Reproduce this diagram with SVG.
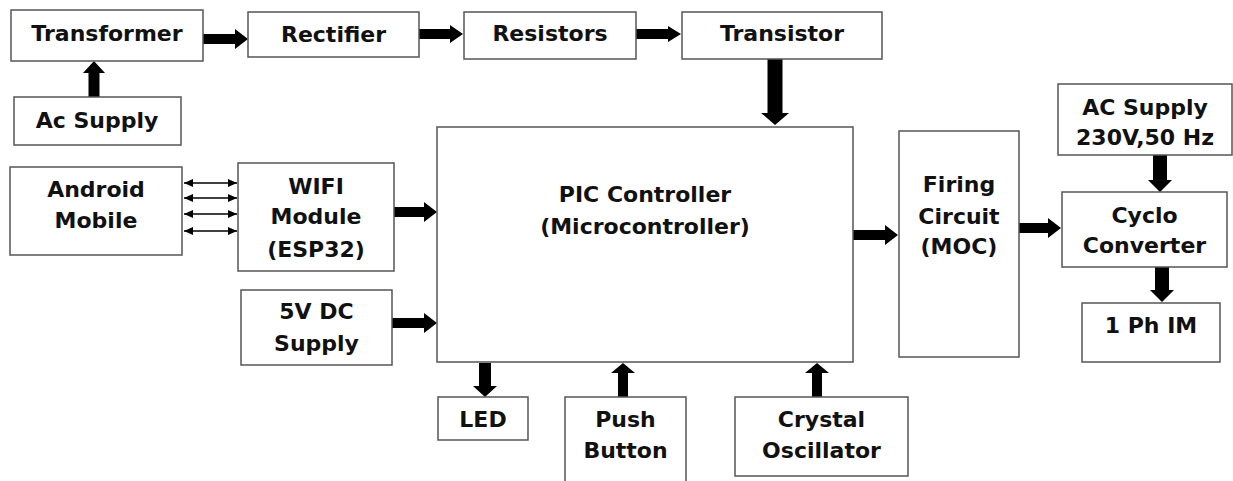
<svg xmlns="http://www.w3.org/2000/svg" width="1233" height="481" viewBox="0 0 1233 481">
<defs>
<style>
.box{fill:#fff;stroke:#555;stroke-width:1.5}
.t{font-family:"DejaVu Sans",sans-serif;font-weight:bold;font-size:22px;fill:#111;text-anchor:middle}
.ar{fill:#000}
.thin{stroke:#000;stroke-width:1.5;fill:none;marker-start:url(#hs);marker-end:url(#he)}
</style>
<marker id="he" markerUnits="userSpaceOnUse" markerWidth="10" markerHeight="8" refX="9" refY="4" orient="auto"><path d="M0,0 L9,4 L0,8 Z" fill="#000"/></marker>
<marker id="hs" markerUnits="userSpaceOnUse" markerWidth="10" markerHeight="8" refX="0" refY="4" orient="auto"><path d="M9,0 L0,4 L9,8 Z" fill="#000"/></marker>
</defs>
<rect width="1233" height="481" fill="#fff"/>
<g id="connectors">
<polygon class="ar" points="203,34 235,34 235,29 248,39 235,49 235,44 203,44"/>
<polygon class="ar" points="419,29 450,29 450,25 463,34 450,43 450,39 419,39"/>
<polygon class="ar" points="636,29 668,29 668,26 681,34 668,42 668,39 636,39"/>
<polygon class="ar" points="394,207 424,207 424,202 437,212 424,222 424,217 394,217"/>
<polygon class="ar" points="392,318 424,318 424,313 437,323 424,333 424,328 392,328"/>
<polygon class="ar" points="853,230 885,230 885,225 898,235 885,245 885,240 853,240"/>
<polygon class="ar" points="1019,223 1048,223 1048,218 1061,228 1048,238 1048,233 1019,233"/>
<polygon class="ar" points="88.5,97 88.5,73 83,73 94,61 105,73 99.5,73 99.5,97"/>
<polygon class="ar" points="618,397 618,373 611,373 623,363 635,373 628,373 628,397"/>
<polygon class="ar" points="812,397 812,373 805,373 817,363 829,373 822,373 822,397"/>
<polygon class="ar" points="767.5,59 767.5,113 761,113 775,125 789,113 782.5,113 782.5,59"/>
<polygon class="ar" points="479,363 479,386 473,386 485,397 497,386 491,386 491,363"/>
<polygon class="ar" points="1153,155 1153,180 1148,180 1160,192 1172,180 1167,180 1167,155"/>
<polygon class="ar" points="1155,267 1155,290 1150,290 1162,302 1174,290 1169,290 1169,267"/>
<line class="thin" x1="184" y1="183" x2="237" y2="183"/>
<line class="thin" x1="184" y1="198" x2="237" y2="198"/>
<line class="thin" x1="184" y1="214" x2="237" y2="214"/>
<line class="thin" x1="184" y1="231" x2="237" y2="231"/>
</g>
<g id="transformer"><rect class="box" x="11" y="10" width="192" height="51"/><text class="t" x="107" y="41">Transformer</text></g>
<g id="ac-supply"><rect class="box" x="14" y="97" width="167" height="48"/><text class="t" x="97" y="128">Ac Supply</text></g>
<g id="rectifier"><rect class="box" x="248" y="12" width="171" height="45"/><text class="t" x="333.5" y="42">Rectifier</text></g>
<g id="resistors"><rect class="box" x="464" y="12" width="172" height="47"/><text class="t" x="550" y="41">Resistors</text></g>
<g id="transistor"><rect class="box" x="682" y="12" width="200" height="47"/><text class="t" x="782" y="41">Transistor</text></g>
<g id="android"><rect class="box" x="10" y="167" width="172" height="88"/><text class="t" x="96" y="197">Android</text><text class="t" x="96" y="228">Mobile</text></g>
<g id="wifi"><rect class="box" x="238" y="163" width="156" height="108"/><text class="t" x="316" y="194">WIFI</text><text class="t" x="316" y="224">Module</text><text class="t" x="316" y="257">(ESP32)</text></g>
<g id="dc-supply"><rect class="box" x="241" y="290" width="151" height="75"/><text class="t" x="316.5" y="319">5V DC</text><text class="t" x="316.5" y="351">Supply</text></g>
<g id="pic"><rect class="box" x="437" y="127" width="416" height="235"/><text class="t" x="645" y="202">PIC Controller</text><text class="t" x="645" y="234">(Microcontroller)</text></g>
<g id="firing"><rect class="box" x="899" y="131" width="120" height="226"/><text class="t" x="959" y="192">Firing</text><text class="t" x="959" y="224">Circuit</text><text class="t" x="959" y="254">(MOC)</text></g>
<g id="ac-230"><rect class="box" x="1058" y="84" width="174" height="71"/><text class="t" x="1145" y="115">AC Supply</text><text class="t" x="1145" y="145">230V,50 Hz</text></g>
<g id="cyclo"><rect class="box" x="1062" y="192" width="165" height="75"/><text class="t" x="1144.5" y="223">Cyclo</text><text class="t" x="1144.5" y="253">Converter</text></g>
<g id="motor"><rect class="box" x="1082" y="303" width="138" height="59"/><text class="t" x="1151" y="333">1 Ph IM</text></g>
<g id="led"><rect class="box" x="438" y="397" width="90" height="43"/><text class="t" x="483" y="427">LED</text></g>
<g id="push"><rect class="box" x="565" y="397" width="121" height="95"/><text class="t" x="625.5" y="427">Push</text><text class="t" x="625.5" y="458">Button</text></g>
<g id="crystal"><rect class="box" x="735" y="397" width="173" height="79"/><text class="t" x="821.5" y="427">Crystal</text><text class="t" x="821.5" y="458">Oscillator</text></g>
</svg>
